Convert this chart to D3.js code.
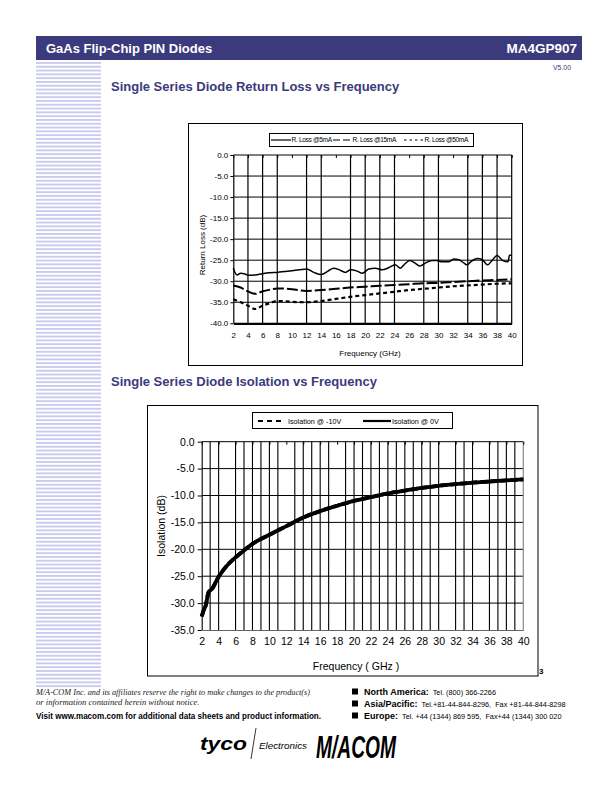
<!DOCTYPE html>
<html><head><meta charset="utf-8">
<script src="https://cdn.jsdelivr.net/npm/d3@7"></script>
<style>
body{margin:0;background:#fff}
svg{display:block;font-family:"Liberation Sans",Arial,Helvetica,sans-serif}
</style>
</head><body>
<svg id="page" width="612" height="792"></svg>
<script>
// ---------------- DATA ----------------
// Return loss chart
const rlSeriesNames = ["R. Loss @5mA", "R. Loss @15mA", "R. Loss @50mA"];
const rlFreq5 = [2, 2.5, 3, 3.5, 4, 5, 6, 7, 8, 9, 10, 11, 12, 13, 14, 15, 15.7, 16.5, 17.3, 18, 18.9, 19.6, 20.5, 21.4, 22.3, 23.2, 24.1, 24.8, 25.4, 26.1, 26.8, 27.5, 28.2, 29.1, 29.8, 30.5, 31.4, 32.1, 32.8, 33.5, 33.9, 34.4, 35.3, 36, 36.7, 37.4, 38, 38.8, 39.5, 39.7, 40];
const rlLoss5 = [-26.9, -28.5, -28.1, -28.2, -28.6, -28.5, -28.2, -28.0, -27.9, -27.7, -27.5, -27.3, -27.1, -27.9, -28.4, -27.5, -26.9, -27.3, -27.9, -27.3, -27.6, -28.1, -27.1, -26.9, -27.3, -26.8, -26.1, -26.9, -25.9, -25.1, -25.7, -26.4, -25.7, -25.1, -25.1, -25.4, -25.4, -24.7, -24.9, -25.7, -26.1, -25.4, -24.6, -24.9, -26.1, -24.9, -23.9, -25.1, -25.4, -23.8, -23.8];
const rlFreq = [2, 3, 4, 5, 6, 7, 8, 10, 12, 14, 16, 18, 20, 22, 24, 26, 28, 30, 32, 34, 36, 38, 40];
const rlLoss15 = [-31.0, -31.5, -32.4, -33.0, -32.4, -32.0, -31.7, -31.9, -32.3, -32.1, -31.8, -31.5, -31.3, -31.1, -30.9, -30.7, -30.5, -30.4, -30.2, -30.0, -29.8, -29.7, -29.5];
const rlLoss50 = [-34.3, -35.0, -35.8, -36.6, -35.8, -35.2, -34.7, -34.9, -35.0, -34.7, -34.2, -33.7, -33.3, -32.9, -32.5, -32.1, -31.8, -31.5, -31.2, -31.0, -30.8, -30.6, -30.5];
const rlYTicks = [0, -5, -10, -15, -20, -25, -30, -35, -40];
const rlXTicks = [2, 4, 6, 8, 10, 12, 14, 16, 18, 20, 22, 24, 26, 28, 30, 32, 34, 36, 38, 40];
const rlXGrid = [4, 6, 8, 12, 14, 18, 20, 22, 24, 28, 30, 34, 36, 38, 40];

// Isolation chart
const isoSeriesNames = ["Isolation @ -10V", "Isolation @ 0V"];
const isoFreq = [2, 2.2, 2.5, 2.8, 3.2, 4, 5, 6, 7, 8, 10, 12, 14, 16, 18, 20, 22, 24, 26, 28, 30, 32, 34, 36, 38, 40];
const isoM10V = [-32.5, -31.5, -30.3, -28.0, -27.4, -25.1, -23.0, -21.5, -20.2, -19.0, -17.3, -15.7, -14.1, -12.9, -11.9, -11.0, -10.3, -9.6, -9.1, -8.6, -8.2, -7.9, -7.6, -7.4, -7.2, -7.0];
const iso0V = [-32.5, -31.5, -30.3, -28.0, -27.4, -25.1, -23.0, -21.5, -20.2, -19.0, -17.3, -15.7, -14.1, -12.9, -11.9, -11.0, -10.3, -9.6, -9.1, -8.6, -8.2, -7.9, -7.6, -7.4, -7.2, -7.0];
const isoYTicks = [0, -5, -10, -15, -20, -25, -30, -35];
const isoXTicks = [2, 4, 6, 8, 10, 12, 14, 16, 18, 20, 22, 24, 26, 28, 30, 32, 34, 36, 38, 40];
const isoXGrid = [3, 4, 6, 7, 8, 9, 10, 11, 13, 14, 15, 16, 17, 19, 20, 21, 22, 23, 24, 25, 26, 27, 28, 29, 30, 32, 33, 34, 36, 37, 38, 39];

// ---------------- PAGE ----------------
const svg = d3.select("#page");
const NAVY = "#3b3a7c";
const SANS = "Liberation Sans, Arial, Helvetica, sans-serif";
const SERIF = "Liberation Serif, Times New Roman, serif";
svg.append("rect").attr("width", 612).attr("height", 792).attr("fill", "#fff");

// header bar
svg.append("rect").attr("x", 36).attr("y", 36).attr("width", 546).attr("height", 24).attr("fill", NAVY);
svg.append("text").attr("x", 46).attr("y", 53).attr("fill", "#fff").attr("font-weight", "bold").attr("font-size", 13).text("GaAs Flip-Chip PIN Diodes");
svg.append("text").attr("x", 577).attr("y", 53).attr("text-anchor", "end").attr("fill", "#fff").attr("font-weight", "bold").attr("font-size", 13.5).text("MA4GP907");
svg.append("text").attr("x", 571).attr("y", 70).attr("text-anchor", "end").attr("fill", NAVY).attr("font-size", 7).attr("textLength", 18).attr("lengthAdjust", "spacingAndGlyphs").text("V5.00");

// left stripes
const stripeRows = d3.range(62, 687, 3.8);
svg.append("g").selectAll("rect").data(stripeRows).join("rect")
  .attr("x", 36).attr("y", d => d).attr("width", 65).attr("height", 1.9).attr("fill", "#cbcbf0");

// section titles
svg.append("text").attr("x", 111).attr("y", 91).attr("fill", NAVY).attr("font-weight", "bold").attr("font-size", 13).text("Single Series Diode Return Loss vs Frequency");
svg.append("text").attr("x", 111).attr("y", 386).attr("fill", NAVY).attr("font-weight", "bold").attr("font-size", 13).text("Single Series Diode Isolation vs Frequency");

// ---------------- CHART 1: Return Loss ----------------
(function(){
  const g = svg.append("g");
  g.append("rect").attr("x", 188.5).attr("y", 123.5).attr("width", 334).attr("height", 242).attr("fill", "#fff").attr("stroke", "#000").attr("stroke-width", 1);
  const x = d3.scaleLinear().domain([2, 40]).range([233.3, 511.7]);
  const y = d3.scaleLinear().domain([0, -40]).range([155, 323.3]);

  g.append("g").selectAll("line").data(rlYTicks.slice(0, -1)).join("line")
    .attr("x1", x(2)).attr("x2", x(40)).attr("y1", d => y(d)).attr("y2", d => y(d))
    .attr("stroke", "#000").attr("stroke-width", 1);
  g.append("g").selectAll("line").data(rlXGrid).join("line")
    .attr("x1", d => x(d)).attr("x2", d => x(d)).attr("y1", y(0)).attr("y2", y(-40))
    .attr("stroke", "#000").attr("stroke-width", 1.2);
  g.append("g").attr("transform", `translate(0,${y(0)})`)
    .call(d3.axisTop(x).tickValues(rlXTicks).tickSize(-3).tickFormat(""))
    .call(s => s.select(".domain").remove())
    .call(s => s.selectAll("line").attr("stroke", "#000"));

  const ya = g.append("g").attr("transform", `translate(${x(2)},0)`)
    .call(d3.axisLeft(y).tickValues(rlYTicks).tickSize(3).tickSizeOuter(0).tickPadding(2).tickFormat(d => d.toFixed(1)));
  ya.select(".domain").attr("stroke", "#000").attr("stroke-width", 1.2);
  ya.selectAll("text").attr("font-size", 8).attr("fill", "#000").attr("font-family", SANS);
  const xa = g.append("g").attr("transform", `translate(0,${y(-40)})`)
    .call(d3.axisBottom(x).tickValues(rlXTicks).tickSize(0).tickSizeOuter(0).tickPadding(9).tickFormat(d => d));
  xa.select(".domain").attr("stroke", "#000").attr("stroke-width", 2.2);
  xa.selectAll("text").attr("font-size", 8).attr("fill", "#000").attr("font-family", SANS);

  g.append("text").attr("x", 370).attr("y", 355.5).attr("text-anchor", "middle").attr("font-size", 8).text("Frequency (GHz)");
  g.append("text").attr("transform", "translate(205,245) rotate(-90)").attr("text-anchor", "middle").attr("font-size", 8).text("Return Loss (dB)");

  const line = d3.line().x(d => x(d[0])).y(d => y(d[1])).curve(d3.curveMonotoneX);
  const series = [
    {pts: d3.zip(rlFreq5, rlLoss5), dash: null, w: 1.5},
    {pts: d3.zip(rlFreq, rlLoss15), dash: "11,3", w: 2},
    {pts: d3.zip(rlFreq, rlLoss50), dash: "4,3", w: 2.2}
  ];
  g.append("g").selectAll("path").data(series).join("path")
    .attr("d", d => line(d.pts)).attr("fill", "none").attr("stroke", "#000")
    .attr("stroke-width", d => d.w).attr("stroke-dasharray", d => d.dash);

  const lg = g.append("g");
  lg.append("rect").attr("x", 269.5).attr("y", 133.5).attr("width", 204).attr("height", 13).attr("fill", "#fff").attr("stroke", "#000");
  const legItems = [
    {x0: 271, x1: 291, dash: null, tx: 291.5},
    {x0: 333, x1: 352, dash: "7,3", tx: 352.5},
    {x0: 404, x1: 424, dash: "2.5,3", tx: 424.5}
  ];
  legItems.forEach((it, i) => {
    lg.append("line").attr("x1", it.x0).attr("x2", it.x1).attr("y1", 140).attr("y2", 140)
      .attr("stroke", "#000").attr("stroke-width", 1.2).attr("stroke-dasharray", it.dash);
    lg.append("text").attr("x", it.tx).attr("y", 142.3).attr("font-size", 6.6).attr("letter-spacing", -0.35).text(rlSeriesNames[i]);
  });
})();

// ---------------- CHART 2: Isolation ----------------
(function(){
  const g = svg.append("g");
  g.append("rect").attr("x", 147.5).attr("y", 405.5).attr("width", 390.5).attr("height", 270.5).attr("fill", "#fff").attr("stroke", "#000").attr("stroke-width", 1);
  const x = d3.scaleLinear().domain([2, 40]).range([201.7, 523.3]);
  const y = d3.scaleLinear().domain([0, -35]).range([441.7, 630]);

  g.append("g").selectAll("line").data(isoYTicks.slice(0, -1)).join("line")
    .attr("x1", x(2)).attr("x2", x(40)).attr("y1", d => y(d)).attr("y2", d => y(d))
    .attr("stroke", "#000").attr("stroke-width", 1);
  g.append("g").selectAll("line").data(isoXGrid).join("line")
    .attr("x1", d => x(d)).attr("x2", d => x(d)).attr("y1", y(0)).attr("y2", y(-35))
    .attr("stroke", "#000").attr("stroke-width", 1.1);
  g.append("line").attr("x1", x(40)).attr("x2", x(40)).attr("y1", y(0)).attr("y2", y(-35)).attr("stroke", "#888").attr("stroke-width", 1.2);
  g.append("g").attr("transform", `translate(0,${y(0)})`)
    .call(d3.axisTop(x).tickValues(isoXTicks).tickSize(-3).tickFormat(""))
    .call(s => s.select(".domain").remove())
    .call(s => s.selectAll("line").attr("stroke", "#000"));

  const ya = g.append("g").attr("transform", `translate(${x(2)},0)`)
    .call(d3.axisLeft(y).tickValues(isoYTicks).tickSize(4).tickSizeOuter(0).tickPadding(3).tickFormat(d => d.toFixed(1)));
  ya.select(".domain").attr("stroke", "#000").attr("stroke-width", 1.1);
  ya.selectAll("text").attr("font-size", 10.5).attr("fill", "#000").attr("font-family", SANS);
  const xa = g.append("g").attr("transform", `translate(0,${y(-35)})`)
    .call(d3.axisBottom(x).tickValues(isoXTicks).tickSize(0).tickSizeOuter(0).tickPadding(8).tickFormat(d => d));
  xa.select(".domain").attr("stroke", "#666").attr("stroke-width", 1.2);
  xa.selectAll("text").attr("font-size", 10.5).attr("fill", "#000").attr("font-family", SANS);

  g.append("text").attr("x", 356).attr("y", 670).attr("text-anchor", "middle").attr("font-size", 10.5).text("Frequency ( GHz )");
  g.append("text").attr("transform", "translate(165,526) rotate(-90)").attr("text-anchor", "middle").attr("font-size", 10.5).text("Isolation (dB)");

  const line = d3.line().x(d => x(d[0])).y(d => y(d[1])).curve(d3.curveMonotoneX);
  const series = [
    {pts: d3.zip(isoFreq, iso0V), dash: null},
    {pts: d3.zip(isoFreq, isoM10V), dash: "7,3"}
  ];
  g.append("g").selectAll("path").data(series).join("path")
    .attr("d", d => line(d.pts)).attr("fill", "none").attr("stroke", "#000")
    .attr("stroke-width", 3.8).attr("stroke-linejoin", "round").attr("stroke-dasharray", d => d.dash);

  const lg = g.append("g");
  lg.append("rect").attr("x", 252.5).attr("y", 412.5).attr("width", 200).attr("height", 16).attr("fill", "#fff").attr("stroke", "#000");
  const legItems = [
    {x0: 258, x1: 285, dash: "5,4", tx: 288, name: isoSeriesNames[0]},
    {x0: 363, x1: 391, dash: null, tx: 392, name: isoSeriesNames[1]}
  ];
  legItems.forEach(it => {
    lg.append("line").attr("x1", it.x0).attr("x2", it.x1).attr("y1", 421).attr("y2", 421)
      .attr("stroke", "#000").attr("stroke-width", 2.2).attr("stroke-dasharray", it.dash);
    lg.append("text").attr("x", it.tx).attr("y", 423.5).attr("font-size", 7.2).text(it.name);
  });
})();

// page number
svg.append("text").attr("x", 539).attr("y", 674).attr("font-size", 8).attr("font-weight", "bold").text("3");

// ---------------- FOOTER ----------------
svg.append("text").attr("x", 36).attr("y", 695).style("font-family", SERIF).attr("font-style", "italic").attr("font-size", 8.6).attr("fill", "#222")
  .attr("textLength", 274).attr("lengthAdjust", "spacingAndGlyphs")
  .text("M/A-COM Inc. and its affiliates reserve the right to make changes to the product(s)");
svg.append("text").attr("x", 36).attr("y", 705).style("font-family", SERIF).attr("font-style", "italic").attr("font-size", 8.6).attr("fill", "#222")
  .text("or information contained herein without notice.");
svg.append("text").attr("x", 36).attr("y", 719).attr("font-weight", "bold").attr("font-size", 9).attr("textLength", 285).attr("lengthAdjust", "spacingAndGlyphs")
  .text("Visit www.macom.com for additional data sheets and product information.");

const contacts = [
  {b: "North America:", t: "Tel. (800) 366-2266"},
  {b: "Asia/Pacific:", t: "Tel.+81-44-844-8296,  Fax +81-44-844-8298"},
  {b: "Europe:", t: "Tel. +44 (1344) 869 595,  Fax+44 (1344) 300 020"}
];
contacts.forEach((c, i) => {
  const yy = 695 + i * 12;
  svg.append("rect").attr("x", 352).attr("y", yy - 6.5).attr("width", 6).attr("height", 6).attr("fill", "#000");
  const t = svg.append("text").attr("x", 364).attr("y", yy).attr("font-size", 7.5).attr("xml:space", "preserve").style("white-space", "pre");
  t.append("tspan").attr("font-weight", "bold").attr("font-size", 9).text(c.b);
  t.append("tspan").attr("dx", 4).attr("font-size", 7.3).text(c.t);
});

// logos
svg.append("text").attr("x", 200).attr("y", 750).attr("font-weight", "900").attr("font-style", "italic").attr("font-size", 19)
  .attr("textLength", 47).attr("lengthAdjust", "spacingAndGlyphs").text("tyco");
svg.append("line").attr("x1", 251).attr("y1", 759).attr("x2", 256).attr("y2", 728).attr("stroke", "#000").attr("stroke-width", 0.8);
svg.append("text").attr("x", 259).attr("y", 749).attr("font-style", "italic").attr("font-size", 9.5)
  .attr("textLength", 48).attr("lengthAdjust", "spacingAndGlyphs").text("Electronics");
svg.append("text").attr("x", 316).attr("y", 758).attr("font-weight", "900").attr("font-style", "italic").attr("font-size", 32)
  .attr("textLength", 80).attr("lengthAdjust", "spacingAndGlyphs").text("M/ACOM");
</script>
</body></html>
